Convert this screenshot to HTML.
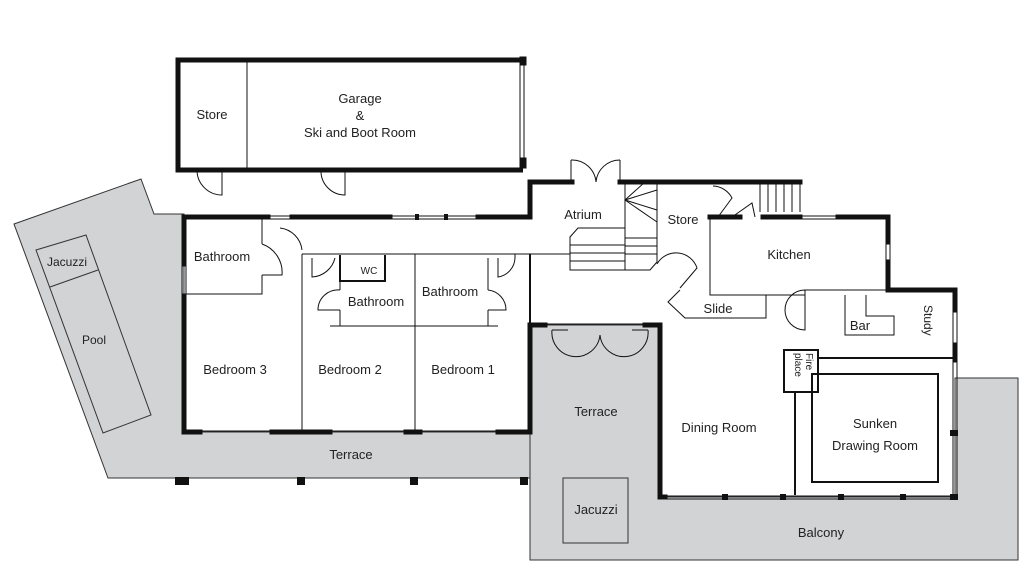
<!DOCTYPE html>
<html><head><meta charset="utf-8"><style>
html,body{margin:0;padding:0;background:#fff;}
svg{display:block;font-family:"Liberation Sans",sans-serif;}
text{font-size:13px;fill:#222;}
</style></head><body>
<svg width="1024" height="579" viewBox="0 0 1024 579" xmlns="http://www.w3.org/2000/svg">
<g fill="#d2d3d4" stroke="#333" stroke-width="1">
<polygon points="14,224 141,179 154,214 184,214 184,432 530,432 530,478 108,478"/>
<polygon points="530,325 660,325 660,497 955,497 955,378 1018,378 1018,560 530,560"/>
</g>
<g fill="none" stroke="#333" stroke-width="1">
<polygon points="36,250 86,235 151,415 103,433"/>
<line x1="50" y1="287" x2="98" y2="270"/>
<rect x="563" y="478" width="65" height="65"/>
</g>
<g fill="none" stroke="#111">
<path d="M521,60 H178 V170 H523" stroke-width="5"/>
<line x1="520" y1="58" x2="520" y2="160" stroke-width="1"/>
<line x1="524" y1="58" x2="524" y2="160" stroke-width="1"/>
<rect x="520" y="57" width="6" height="8" fill="#111"/>
<rect x="520" y="158" width="6" height="10" fill="#111"/>
<line x1="247" y1="60" x2="247" y2="170" stroke-width="1"/>
<path d="M222,170 V195 A25,25 0 0 1 197,170" stroke-width="1"/>
<path d="M345,170 V195 A24,24 0 0 1 321,170" stroke-width="1"/>
</g>
<g fill="none" stroke="#111" stroke-width="5" stroke-linecap="square">
<path d="M184,264 V217 H268"/>
<path d="M184,296 V432 H200"/>
<path d="M292,217 H390"/>
<path d="M478,217 H530 V182 H572"/>
<path d="M620,182 H800"/>
<path d="M710,217 H740"/>
<path d="M763,217 H800"/>
<path d="M838,217 H888 V242"/>
<path d="M888,262 V290 H955 V310"/>
<path d="M955,345 V360"/>
<path d="M272,432 H330"/>
<path d="M406,432 H420"/>
<path d="M498,432 H530 V325 H545"/>
<path d="M645,325 H660 V497 H665"/>
</g>
<g fill="#111">
<rect x="175" y="477" width="14" height="8"/><rect x="297" y="477" width="8" height="8"/>
<rect x="410" y="477" width="8" height="8"/><rect x="520" y="477" width="8" height="8"/>
<rect x="722" y="494" width="6" height="6"/><rect x="780" y="494" width="6" height="6"/>
<rect x="838" y="494" width="6" height="6"/><rect x="900" y="494" width="6" height="6"/>
<rect x="950" y="494" width="8" height="6"/><rect x="950" y="430" width="8" height="6"/>
<rect x="415" y="214" width="4" height="6"/><rect x="444" y="214" width="4" height="6"/>
</g>
<g fill="none" stroke="#111" stroke-width="1">
<line x1="268" y1="216" x2="292" y2="216"/><line x1="268" y1="219" x2="292" y2="219"/>
<line x1="390" y1="216" x2="478" y2="216"/><line x1="390" y1="219" x2="478" y2="219"/>
<line x1="182" y1="264" x2="182" y2="296"/><line x1="186" y1="264" x2="186" y2="296"/>
<line x1="200" y1="431" x2="272" y2="431"/><line x1="330" y1="431" x2="406" y2="431"/><line x1="420" y1="431" x2="498" y2="431"/>
<line x1="660" y1="496" x2="955" y2="496"/><line x1="660" y1="499" x2="955" y2="499"/>
<line x1="953" y1="310" x2="953" y2="497"/><line x1="957" y1="310" x2="957" y2="497"/>
<line x1="886" y1="242" x2="886" y2="262"/><line x1="890" y1="242" x2="890" y2="262"/>
<line x1="800" y1="216" x2="838" y2="216"/><line x1="800" y1="219" x2="838" y2="219"/>
<line x1="545" y1="324" x2="645" y2="324"/>
<line x1="530" y1="254" x2="530" y2="325" stroke-width="2"/>
<path d="M262,217 V244 M262,275 V294 H184"/>
<path d="M262,244 A30,30 0 0 1 282,275 H262"/>
<path d="M302,254 V432"/>
<path d="M302,254 H530"/>
<path d="M280,228 A25,25 0 0 1 302,250"/>
<path d="M330,326 H498"/>
<path d="M415,254 V432"/>
<path d="M340,255 V281 H385 V255" stroke-width="2"/>
<path d="M340,281 V290 M340,310 V326"/>
<path d="M312,258 V277 A25,25 0 0 0 335,258"/>
<path d="M340,290 A20,20 0 0 0 318,310 H340"/>
<path d="M488,290 A20,20 0 0 1 506,310 H488 M488,290 V258 M488,310 V326"/>
<path d="M498,258 V277 A20,20 0 0 0 515,258 V254"/>
<path d="M571,160 V182 M571,160 A24,24 0 0 1 596,182 M620,160 V182 M620,160 A24,24 0 0 0 596,182"/>
<path d="M625,182 V270 M657,182 V262 L650,270 H570 V237 L578,228 H625"/>
<path d="M625,238 H657 M625,246 H657 M625,254 H657 M570,245 H625 M570,253 H625 M570,261 H625 M625,200 L657,190 M625,200 L645,182 M625,200 L657,210 M625,200 L657,222"/>
<path d="M530,254 H570"/>
<path d="M657,264 A22,22 0 0 1 697,268 L680,288"/>
<path d="M710,217 V295 H766 V318 H685 L668,302 L680,290"/>
<path d="M766,295 H805 M805,290 V330 A18,18 0 0 1 805,290 H888"/>
<path d="M713,186 A22,22 0 0 1 732,198 L718,217 M732,217 L752,203 L755,217"/>
<path d="M760,182 V212 M768,182 V212 M776,182 V212 M784,182 V212 M792,182 V212 M800,182 V212"/>
<path d="M845,295 V335 H894 V316 H866 V295"/>
<path d="M818,358 H955 M784,350 H818 V392 H784 Z" stroke-width="2"/>
<path d="M795,392 V495 M812,392 V374 H938 V482 H812 Z" stroke-width="2"/>
<path d="M552,330 A24,24 0 0 0 600,335 A24,24 0 0 0 648,330 M552,330 H568 M632,330 H648"/>
</g>
<text x="212" y="119" text-anchor="middle">Store</text>
<text x="360" y="103" text-anchor="middle">Garage</text>
<text x="360" y="120" text-anchor="middle">&amp;</text>
<text x="360" y="137" text-anchor="middle">Ski and Boot Room</text>
<text x="67" y="266" text-anchor="middle" style="font-size:12px" fill="#444">Jacuzzi</text>
<text x="94" y="344" text-anchor="middle" style="font-size:12px">Pool</text>
<text x="222" y="261" text-anchor="middle">Bathroom</text>
<text x="369" y="274" text-anchor="middle" style="font-size:10px">WC</text>
<text x="376" y="306" text-anchor="middle">Bathroom</text>
<text x="450" y="296" text-anchor="middle">Bathroom</text>
<text x="235" y="374" text-anchor="middle">Bedroom 3</text>
<text x="350" y="374" text-anchor="middle">Bedroom 2</text>
<text x="463" y="374" text-anchor="middle">Bedroom 1</text>
<text x="351" y="459" text-anchor="middle">Terrace</text>
<text x="583" y="219" text-anchor="middle">Atrium</text>
<text x="683" y="224" text-anchor="middle">Store</text>
<text x="789" y="259" text-anchor="middle">Kitchen</text>
<text x="718" y="313" text-anchor="middle">Slide</text>
<text x="860" y="330" text-anchor="middle">Bar</text>
<text x="0" y="0" transform="translate(924,305) rotate(90)" style="font-size:12px">Study</text>
<text x="0" y="0" transform="translate(806,353) rotate(90)" style="font-size:10px">Fire</text>
<text x="0" y="0" transform="translate(795,353) rotate(90)" style="font-size:10px">place</text>
<text x="596" y="416" text-anchor="middle">Terrace</text>
<text x="719" y="432" text-anchor="middle">Dining Room</text>
<text x="875" y="428" text-anchor="middle">Sunken</text>
<text x="875" y="450" text-anchor="middle">Drawing Room</text>
<text x="596" y="514" text-anchor="middle">Jacuzzi</text>
<text x="821" y="537" text-anchor="middle">Balcony</text>
</svg>
</body></html>
